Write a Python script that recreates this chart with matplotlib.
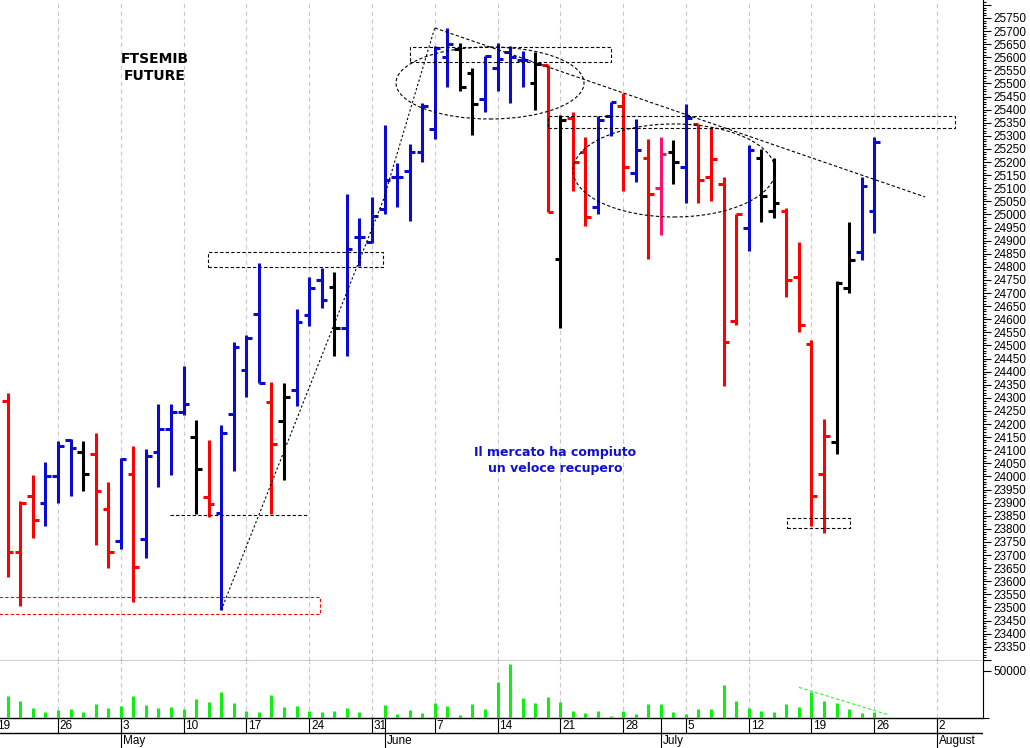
import numpy as np
import pandas as pd
import matplotlib
matplotlib.use('Agg')
import matplotlib.pyplot as plt
from matplotlib.patches import Rectangle, Ellipse
from matplotlib.ticker import MultipleLocator, FuncFormatter, FixedLocator

# daily bars of the FTSE MIB future, 20 Apr -> 26 Jul 2021
dates = pd.bdate_range('2021-04-20', '2021-07-26')

opens = [24290, 23710, 23925, 23900, 24000, 24140, 24095, 24085, 23875, 23755,
         24010, 23760, 24095, 24180, 24245, 24150, 23920, 23860, 24240, 24405,
         24620, 24285, 24210, 24330, 24615, 24750, 24725, 24565, 24915, 24895,
         25020, 25145, 25165, 25240, 25325, 25600, 25630, 25540, 25440, 25560,
         25620, 25590, 25500, 25570, 24830, 25370, 25240, 25030, 25375, 25415,
         25160, 25215, 25100, 25240, 25180, 25345, 25145, 25115, 24595, 24950,
         25215, 25015, 25015, 24760, 24505, 24010, 24130, 24720, 24855, 25015]
highs = [24320, 23905, 24005, 24055, 24135, 24145, 24135, 24165, 23980, 24070,
         24115, 24105, 24275, 24275, 24420, 24215, 24140, 24195, 24515, 24540,
         24815, 24360, 24355, 24640, 24760, 24795, 24780, 25080, 24985, 25065,
         25340, 25195, 25270, 25425, 25645, 25710, 25655, 25560, 25605, 25655,
         25645, 25625, 25620, 25570, 25380, 25390, 25295, 25375, 25430, 25465,
         25365, 25290, 25295, 25285, 25420, 25345, 25330, 25145, 25000, 25265,
         25250, 25215, 25025, 24895, 24520, 24220, 24745, 24970, 25145, 25295]
lows = [23615, 23505, 23765, 23810, 23900, 23925, 23945, 23740, 23650, 23725,
        23520, 23690, 23960, 24005, 24235, 23855, 23845, 23490, 24020, 24305,
        24355, 23855, 23985, 24270, 24575, 24645, 24460, 24460, 24805, 24890,
        25000, 25030, 24975, 25200, 25290, 25485, 25470, 25305, 25390, 25470,
        25425, 25485, 25400, 25010, 24565, 25090, 24955, 25000, 25300, 25090,
        25125, 24830, 24920, 25115, 25045, 25045, 25050, 24345, 24580, 24860,
        24970, 24985, 24685, 24550, 23810, 23785, 24085, 24700, 24825, 24930]
closes = [23710, 23900, 23835, 24000, 24115, 24110, 24010, 23945, 23710, 24065,
          23655, 24080, 24180, 24245, 24275, 24030, 23895, 24165, 24495, 24530,
          24355, 24125, 24305, 24590, 24720, 24675, 24565, 24870, 24915, 24995,
          25130, 25145, 25240, 25415, 25635, 25650, 25485, 25420, 25605, 25595,
          25600, 25590, 25575, 25010, 25360, 25200, 24990, 25360, 25430, 25180,
          25245, 25080, 25230, 25200, 25370, 25130, 25210, 24515, 25000, 25245,
          25070, 25045, 24750, 24580, 23925, 24155, 24740, 24825, 25110, 25275]
# bar colour signal: b=up, r=down, k=neutral, m=magenta
signal = list("rrrbbbkrrb" "rbbbbkrbbb" "brkbbbkbbb" "bbbbbbkkbb"
              "bbkrkrrbbr" "brmkbrrrrb" "kkrrrrkkbb")
volumes = [23100, 17800, 10600, 5600, 8500, 8800, 6400, 14200, 10600, 12400,
           23100, 13500, 10600, 11000, 9600, 19500, 16700, 26900, 15200, 7100,
           6400, 24200, 11700, 12800, 7400, 5600, 6700, 10600, 5600, 700,
           13500, 3500, 7800, 4600, 15200, 12800, 2900, 14200, 8800, 38300,
           57100, 21300, 16000, 22300, 17000, 7400, 4600, 7100, 1800, 7100,
           3900, 14200, 14200, 6100, 3500, 8800, 8800, 34800, 17800, 9900,
           7400, 6100, 14200, 11700, 27700, 17800, 16000, 8800, 5300, 6400]

week_labels = ['19', '26', '3', '10', '17', '24', '31', '7', '14', '21', '28',
               '5', '12', '19', '26', '2']
month_labels = ['May', 'June', 'July', 'August']

palette = {'b': '#0a0ad2', 'r': '#ff0000', 'k': '#000000', 'm': '#ff1070'}
cols = [palette[s] for s in signal]

x = np.arange(len(dates))
# position of mondays / first trading day of months on the bar index
all_days = pd.bdate_range('2021-04-19', '2021-08-06')
pos = {d: i - 1 for i, d in enumerate(all_days)}
mondays = [pos[d] for d in all_days if d.weekday() == 0]
month_starts = [pos[d] for d in [pd.Timestamp('2021-05-03'), pd.Timestamp('2021-06-01'),
                                 pd.Timestamp('2021-07-01'), pd.Timestamp('2021-08-02')]]

W, H = 1030, 748
fig = plt.figure(figsize=(W / 100, H / 100), dpi=100)
right = 983 / W
ax = fig.add_axes([0, (H - 661) / H, right, 661 / H])
axv = fig.add_axes([0, (H - 717.7) / H, right, 56.7 / H])
axd = fig.add_axes([0, 0, right, 30.3 / H])

xlim = (-0.62, 77.66)
tick_font = dict(family='Liberation Sans', size=8.5)

# ---- price panel
for m in mondays:
    ax.axvline(m, color='#c8c8d4', lw=0.8, ls=(0, (4, 3)), zorder=0)
lw = 2.2
tk = 0.45
ax.vlines(x, lows, highs, colors=cols, lw=lw, zorder=3)
ax.hlines(opens, x - tk, x, colors=cols, lw=lw, zorder=3)
ax.hlines(closes, x, x + tk, colors=cols, lw=lw, zorder=3)

ax.set_xlim(*xlim)
ax.set_ylim(23295.8, 25818.7)
ax.yaxis.tick_right()
ax.yaxis.set_major_locator(MultipleLocator(50))
ax.yaxis.set_minor_locator(MultipleLocator(10))
ax.yaxis.set_major_formatter(FuncFormatter(
    lambda v, p: '%d' % v if 23340 < v < 25760 else ''))
ax.tick_params(axis='y', which='major', length=6, width=0.8, pad=1.5)
ax.tick_params(axis='y', which='minor', length=2.5, width=0.8)
for t in ax.get_yticklabels():
    t.set_fontfamily('Liberation Sans')
    t.set_fontsize(8.5)
ax.set_xticks([])
for s in ['top', 'left']:
    ax.spines[s].set_visible(False)
ax.spines['right'].set_linewidth(0.8)
ax.spines['bottom'].set_linewidth(1.0)

# annotations
dash = (0, (3, 2))
def box(x0, x1, y0, y1, color='black'):
    ax.add_patch(Rectangle((x0, y0), x1 - x0, y1 - y0, fill=False, ec=color,
                           lw=0.8, ls=dash, zorder=4))
box(32.03, 48.0, 25583, 25638)
box(15.97, 29.9, 24798, 24856)
box(43.0, 75.4, 25330, 25376)
box(62.05, 67.07, 23802, 23840)
box(-1.0, 24.9, 23475, 23539, color='#ff0000')
ax.hlines(23853, 12.92, 23.83, colors='black', lw=0.8, ls=dash, zorder=4)

ax.add_patch(Ellipse((38.4, 25502), 14.97, 275, fill=False, ec='black',
                     lw=0.8, ls=dash, zorder=4))
ax.add_patch(Ellipse((53.06, 25168), 16.09, 355, fill=False, ec='black',
                     lw=0.8, ls=dash, zorder=4))
ax.plot([17.0, 29.9, 34.0], [23490, 25055, 25712], color='black', lw=0.8,
        ls=(0, (2, 2)), zorder=4)
ax.plot([34.0, 73.05], [25712, 25067], color='black', lw=0.8,
        ls=(0, (3, 2)), zorder=4)

ax.text(11.7, 25562, 'FTSEMIB\nFUTURE', ha='center', va='center',
        fontsize=10, fontweight='bold', family='DejaVu Sans', linespacing=1.3)
ax.text(43.6, 24060, 'Il mercato ha compiuto\nun veloce recupero', ha='center',
        va='center', fontsize=9, fontweight='bold', family='DejaVu Sans',
        color='#1010d0', linespacing=1.3)

# ---- volume panel
for m in mondays:
    axv.axvline(m, color='#c8c8d4', lw=0.8, ls=(0, (4, 3)), zorder=0)
axv.vlines(x, 0, volumes, colors='#11ee11', lw=2.2, zorder=3)
axv.plot([63.0, 70.0], [32300, 3600], color='#33ee33', lw=0.8,
         ls=(0, (3, 2)), zorder=4)
axv.set_xlim(*xlim)
axv.set_ylim(0, 60330)
axv.yaxis.tick_right()
axv.yaxis.set_major_locator(FixedLocator([50000]))
axv.yaxis.set_minor_locator(FixedLocator([0]))
axv.tick_params(axis='y', which='major', length=6, width=0.8, pad=1.5)
axv.tick_params(axis='y', which='minor', length=4, width=0.8)
for t in axv.get_yticklabels():
    t.set_fontfamily('Liberation Sans')
    t.set_fontsize(8.5)
axv.set_xticks([])
for s in ['left']:
    axv.spines[s].set_visible(False)
axv.spines['top'].set_visible(False)
axv.spines['right'].set_linewidth(0.8)
axv.spines['bottom'].set_linewidth(1.0)

# ---- date rows
axd.set_xlim(*xlim)
axd.set_ylim(0, 1)
axd.axis('off')
mid = 15 / 30.3
axd.axhline(mid, color='black', lw=1.0)
for m, lab in zip(mondays, week_labels):
    axd.plot([m, m], [mid, 1], color='black', lw=0.8, clip_on=False)
    axd.text(m + 0.15, 0.74, lab, ha='left', va='center', **tick_font)
for m, lab in zip(month_starts, month_labels):
    axd.plot([m, m], [0, 1], color='black', lw=0.8, clip_on=False)
    axd.text(m + 0.15, 0.22, lab, ha='left', va='center', **tick_font)

fig.savefig('out.png', dpi=100)
